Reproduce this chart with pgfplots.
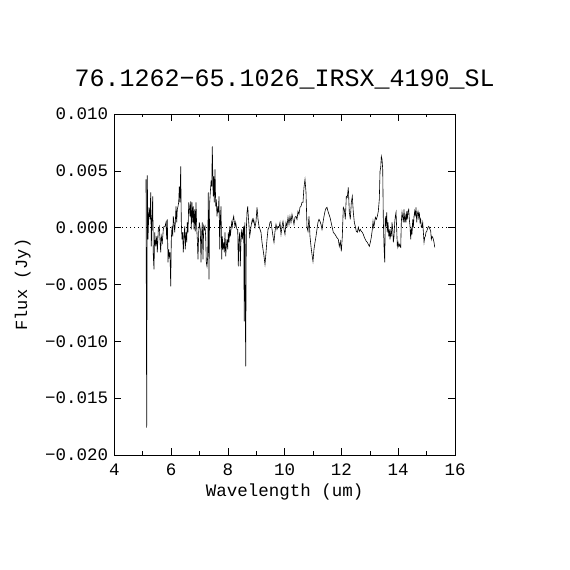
\documentclass[border=0pt]{standalone}
\usepackage{pgfplots}
\pgfplotsset{compat=1.18}
\usepackage{pgfplotstable}
\usepackage{fontspec}
\setmainfont{Liberation Mono}
\pgfplotstableread{
x y
5.117 0.00425
5.141 -0.01759
5.162 0.00461
5.187 -0.00103
5.222 0.00179
5.258 0.00073
5.282 0.00311
5.303 -0.00165
5.328 0.00073
5.353 0.00276
5.374 -0.00253
5.398 -0.00367
5.423 -0.00041
5.458 -0.00165
5.494 -0.00077
5.515 -0.00218
5.550 -0.00015
5.585 0.00011
5.610 -0.00103
5.634 -0.00218
5.656 -0.00077
5.691 -0.00129
5.726 -0.00015
5.751 0.00011
5.786 0.00011
5.821 0.00047
5.846 -0.00103
5.867 0.00073
5.892 -0.00306
5.916 -0.00191
5.937 -0.00253
5.962 -0.00218
5.987 -0.00517
6.008 -0.00103
6.032 0.00011
6.057 -0.00077
6.078 0.00100
6.103 0.00047
6.128 -0.00041
6.149 0.00047
6.173 0.00188
6.198 0.00047
6.219 0.00161
6.244 0.00188
6.268 0.00223
6.290 0.00364
6.314 0.00223
6.339 0.00540
6.360 0.00047
6.385 -0.00103
6.409 -0.00041
6.430 -0.00218
6.455 -0.00077
6.480 0.00011
6.501 -0.00191
6.526 -0.00041
6.550 -0.00129
6.571 0.00047
6.596 -0.00041
6.621 0.00223
6.642 0.00188
6.666 0.00100
6.691 0.00232
6.712 -0.00015
6.737 0.00223
6.762 0.00047
6.783 0.00188
6.807 -0.00015
6.832 0.00161
6.853 -0.00033
6.878 0.00223
6.902 0.00003
6.924 -0.00103
6.948 -0.00279
6.973 -0.00041
6.994 0.00047
7.029 -0.00015
7.054 -0.00306
7.079 -0.00041
7.100 0.00047
7.124 -0.00279
7.149 0.00011
7.170 -0.00015
7.195 0.00011
7.219 -0.00077
7.241 -0.00306
7.265 -0.00341
7.290 -0.00253
7.311 0.00311
7.336 -0.00455
7.360 0.00223
7.382 0.00311
7.406 0.00399
7.431 0.00364
7.452 0.00716
7.477 0.00337
7.487 0.00276
7.501 0.00452
7.522 0.00223
7.547 0.00513
7.572 0.00188
7.593 0.00249
7.618 0.00100
7.642 0.00188
7.663 0.00135
7.688 0.00276
7.713 -0.00191
7.734 0.00073
7.758 0.00188
7.783 -0.00279
7.804 -0.00077
7.829 -0.00191
7.854 -0.00129
7.875 -0.00218
7.899 -0.00041
7.924 -0.00253
7.945 -0.00165
7.970 -0.00103
7.994 -0.00191
8.016 -0.00041
8.040 -0.00129
8.065 0.00011
8.086 -0.00077
8.111 -0.00015
8.135 0.00047
8.156 0.00011
8.181 0.00073
8.206 0.00100
8.227 0.00047
8.252 0.00011
8.276 0.00047
8.297 0.00011
8.322 -0.00015
8.347 -0.00015
8.368 -0.00341
8.392 -0.00103
8.417 -0.00041
8.438 -0.00341
8.463 -0.00103
8.488 -0.00015
8.509 -0.00103
8.533 -0.00041
8.558 0.00011
8.576 -0.00825
8.597 0.00047
8.628 -0.01221
8.650 -0.00015
8.674 0.00135
8.699 0.00188
8.720 0.00100
8.745 0.00011
8.769 -0.00077
8.790 -0.00041
8.815 0.00011
8.840 0.00047
8.861 0.00073
8.886 0.00047
8.910 0.00073
8.956 0.00003
8.991 0.00055
9.027 0.00179
9.062 0.00073
9.097 0.00011
9.132 -0.00015
9.167 -0.00041
9.203 -0.00129
9.238 -0.00191
9.273 -0.00253
9.308 -0.00323
9.343 -0.00218
9.379 -0.00103
9.414 -0.00015
9.449 0.00003
9.484 0.00047
9.519 0.00055
9.555 -0.00015
9.590 -0.00077
9.625 -0.00129
9.660 -0.00033
9.695 0.00029
9.731 -0.00015
9.766 0.00011
9.801 0.00003
9.836 0.00047
9.872 -0.00059
9.907 0.00011
9.942 0.00055
9.977 -0.00015
10.012 -0.00059
10.048 0.00047
10.083 0.00011
10.118 0.00091
10.153 0.00029
10.188 0.00100
10.224 0.00047
10.259 0.00117
10.294 0.00073
10.329 0.00029
10.364 0.00091
10.400 0.00100
10.435 0.00073
10.470 0.00144
10.505 0.00117
10.540 0.00179
10.576 0.00188
10.611 0.00223
10.646 0.00223
10.681 0.00355
10.717 0.00425
10.752 0.00311
10.787 0.00003
10.822 -0.00033
10.857 0.00100
10.893 -0.00077
10.928 -0.00165
10.963 -0.00235
10.998 -0.00297
11.033 -0.00191
11.069 -0.00129
11.104 -0.00077
11.139 -0.00015
11.174 0.00047
11.209 0.00073
11.245 0.00055
11.280 0.00029
11.316 -0.00015
11.351 0.00047
11.386 0.00100
11.421 0.00144
11.456 0.00170
11.492 0.00179
11.527 0.00144
11.562 0.00117
11.597 0.00091
11.714 -0.00041
11.774 -0.00059
11.834 -0.00085
11.890 -0.00103
11.925 -0.00165
11.961 -0.00121
11.996 -0.00209
12.031 -0.00077
12.066 0.00179
12.102 0.00161
12.137 0.00073
12.172 0.00276
12.207 0.00267
12.242 0.00355
12.278 0.00135
12.313 0.00073
12.348 0.00223
12.383 0.00276
12.418 0.00135
12.454 0.00047
12.489 0.00011
12.524 -0.00033
12.559 -0.00041
12.595 0.00003
12.630 -0.00033
12.665 -0.00015
12.700 -0.00033
12.735 -0.00041
12.771 -0.00059
12.806 -0.00085
12.841 -0.00103
12.876 -0.00121
12.912 -0.00129
12.947 -0.00147
12.982 -0.00165
13.017 -0.00129
13.052 -0.00085
13.088 -0.00015
13.112 0.00055
13.137 0.00003
13.158 0.00029
13.194 0.00091
13.229 0.00073
13.264 0.00100
13.299 0.00144
13.334 0.00249
13.359 0.00496
13.384 0.00531
13.405 0.00628
13.430 0.00601
13.454 0.00513
13.475 0.00073
13.500 -0.00165
13.525 -0.00306
13.546 0.00100
13.571 0.00011
13.595 0.00135
13.616 -0.00041
13.641 0.00047
13.666 -0.00077
13.687 -0.00015
13.711 -0.00103
13.736 -0.00033
13.757 -0.00077
13.782 0.00047
13.806 -0.00015
13.828 -0.00129
13.852 -0.00077
13.877 0.00047
13.898 0.00100
13.923 0.00135
13.947 -0.00015
13.968 -0.00165
13.993 -0.00129
14.018 -0.00165
14.039 -0.00147
14.063 -0.00165
14.088 -0.00173
14.109 0.00047
14.134 0.00135
14.159 0.00091
14.180 0.00047
14.204 0.00161
14.229 0.00047
14.250 0.00100
14.275 0.00047
14.299 0.00144
14.320 0.00073
14.345 0.00144
14.370 0.00161
14.391 0.00073
14.416 0.00011
14.440 -0.00103
14.461 -0.00015
14.486 -0.00059
14.511 0.00073
14.532 0.00003
14.557 0.00100
14.581 0.00144
14.602 0.00100
14.627 0.00179
14.652 0.00047
14.673 0.00117
14.697 0.00144
14.722 0.00091
14.743 0.00135
14.768 0.00047
14.792 0.00073
14.814 0.00003
14.838 0.00011
14.863 0.00047
14.884 -0.00033
14.909 -0.00129
14.933 -0.00085
14.954 -0.00077
14.979 -0.00041
15.004 -0.00033
15.025 -0.00015
15.050 0.00003
15.074 0.00011
15.095 0.00003
15.120 -0.00015
15.145 -0.00033
15.166 -0.00103
15.191 -0.00077
15.215 -0.00085
15.236 -0.00103
15.261 -0.00129
15.286 -0.00173
}\spectrum
\begin{document}
\begin{tikzpicture}
\path[use as bounding box, fill=white] (0,0) rectangle (570pt,570pt);
\begin{axis}[
  at={(114.3pt,115pt)}, anchor=south west,
  scale only axis, width=340.7pt, height=341pt,
  xmin=4, xmax=16, ymin=-0.02, ymax=0.01,
  xtick={4,6,8,10,12,14,16},
  xticklabels={4,6,8,10,12,14,16},
  minor x tick num=1,
  ytick={-0.02,-0.015,-0.01,-0.005,0,0.005,0.01},
  yticklabels={−0.020,−0.015,−0.010,−0.005,0.000,0.005,0.010},
  minor y tick num=0,
  scaled y ticks=false, scaled x ticks=false,
  tick align=inside,
  major tick length=7pt, minor tick length=3.5pt,
  tick style={black, line width=0.6pt},
  axis line style={black, line width=0.6pt},
  ticklabel style={font=\fontsize{17.5}{20}\selectfont},
  xticklabel style={anchor=base, yshift=-21pt},
  yticklabel style={anchor=east, inner sep=0pt, xshift=-6pt},
  title={76.1262−65.1026\_IRSX\_4190\_SL},
  title style={font=\fontsize{25}{28}\selectfont, at={(axis description cs:0.5,1.0645)}, anchor=base, inner sep=0pt},
  xlabel={Wavelength (um)},
  xlabel style={font=\fontsize{17.5}{20}\selectfont, at={(axis description cs:0.5,-0.123)}, anchor=base, inner sep=0pt},
  ylabel={Flux (Jy)},
  ylabel style={font=\fontsize{17}{20}\selectfont, at={(axis description cs:-0.256,0.5)}, anchor=base, rotate=0, inner sep=0pt},
  clip=true,
]
\addplot[black, line width=0.5pt, dash pattern=on 1pt off 3pt] coordinates {(4,0) (16,0)};
\addplot[black, line width=0.6pt, sharp plot, mark=none] table[x=x, y=y] {\spectrum};
\end{axis}
\end{tikzpicture}
\end{document}
